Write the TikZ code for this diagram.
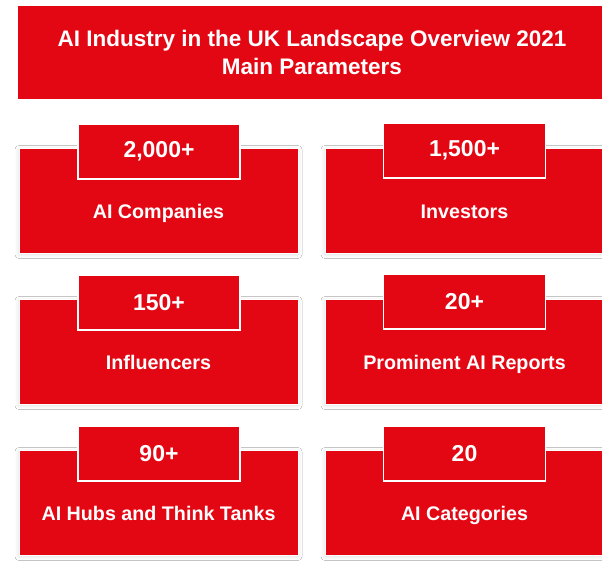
\documentclass[tikz,border=0pt]{standalone}
\usepackage{fontspec}
\setmainfont{Liberation Sans}
\usetikzlibrary{shadows.blur}

\begin{document}
\begin{tikzpicture}[x=1pt,y=-1pt,
  card/.style={rectangle, draw=white, line width=0.8pt, fill=cardfill, inner sep=0pt,
    minimum width=279pt, minimum height=105pt,
    blur shadow={shadow xshift=0pt, shadow yshift=-1.5pt, shadow blur radius=4pt, shadow opacity=14}},
  numtab/.style={rectangle, draw=white, line width=1.5pt, fill=cardfill, inner sep=0pt,
    minimum width=162pt, minimum height=55pt, text=white,
    font=\fontsize{23}{27}\selectfont\bfseries},
  cardtext/.style={anchor=base, text=white, inner sep=0pt,
    font=\fontsize{19.7}{24}\selectfont\bfseries}]
%Define all colors here.

\definecolor{cardfill}{RGB}{227,6,19}
\definecolor{titlefill}{RGB}{227,6,19}

\clip (0,0) rectangle (602,562);
\fill[white] (0,0) rectangle (602,562);

\node(title) at (312,52.5) [rectangle, fill=titlefill, inner sep=0pt, minimum width=588pt,
  minimum height=93pt, align=center, text=white,
  font=\fontsize{22.5}{27.5}\selectfont\bfseries]
  {AI Industry in the UK Landscape Overview 2021\\Main Parameters};

\node(C1) at (158.5,200.5) [card] {};
\node(N1) at (159,151.5) [numtab] {2,000+};
\node(L1) at (158.5,218.5) [cardtext] {AI Companies};

\node(C2) at (464.5,200.5) [card] {};
\node(N2) at (464.5,150.5) [numtab] {1,500+};
\node(L2) at (464.5,218.5) [cardtext] {Investors};

\node(C3) at (158.5,351.5) [card] {};
\node(N3) at (159,302.5) [numtab] {150+};
\node(L3) at (158.5,369.5) [cardtext] {Influencers};

\node(C4) at (464.5,351.5) [card] {};
\node(N4) at (464.5,301.5) [numtab] {20+};
\node(L4) at (464.5,369.5) [cardtext] {Prominent AI Reports};

\node(C5) at (158.5,502.5) [card] {};
\node(N5) at (159,453.5) [numtab] {90+};
\node(L5) at (158.5,520.5) [cardtext] {AI Hubs and Think Tanks};

\node(C6) at (464.5,502.5) [card] {};
\node(N6) at (464.5,453.5) [numtab] {20};
\node(L6) at (464.5,520.5) [cardtext] {AI Categories};
\end{tikzpicture}
\end{document}
